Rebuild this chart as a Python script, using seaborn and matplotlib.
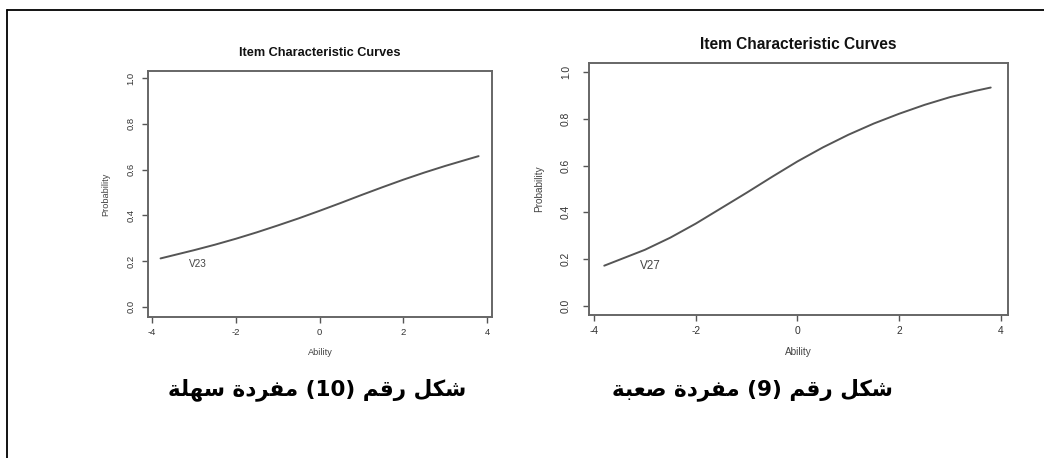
import matplotlib
matplotlib.use("Agg")
import matplotlib.pyplot as plt
import seaborn as sns
import pandas as pd
from matplotlib.lines import Line2D

# ---------------- data ----------------
ability_left = [-3.8, -3.0, -2.5, -2.0, -1.5, -1.0, -0.5, 0.0, 0.5, 1.0, 1.5, 2.0, 2.5, 3.0, 3.5, 3.8]
prob_v23 = [0.212, 0.248, 0.272, 0.298, 0.326, 0.356, 0.387, 0.420, 0.454, 0.489, 0.523, 0.556, 0.587, 0.616, 0.643, 0.659]

ability_right = [-3.8, -3.0, -2.5, -2.0, -1.5, -1.0, -0.5, 0.0, 0.5, 1.0, 1.5, 2.0, 2.5, 3.0, 3.5, 3.8]
prob_v27 = [0.172, 0.240, 0.292, 0.352, 0.418, 0.484, 0.552, 0.618, 0.678, 0.732, 0.780, 0.822, 0.860, 0.893, 0.920, 0.934]

item_labels = ["V23", "V27"]
x_ticks = [-4, -2, 0, 2, 4]
y_ticks = [0.0, 0.2, 0.4, 0.6, 0.8, 1.0]
y_tick_labels = ["0.0", "0.2", "0.4", "0.6", "0.8", "1.0"]
panel_title = "Item Characteristic Curves"
x_label = "Ability"
y_label = "Probability"
caption_left = "شكل رقم (10) مفردة سهلة"
caption_right = "شكل رقم (9) مفردة صعبة"

# ---------------- minimal Arabic shaping for display ----------------
# letter: (isolated, final, initial, medial); None => joins only to the right
FORMS = {
    "ش": ("\uFEB5", "\uFEB6", "\uFEB7", "\uFEB8"),
    "ك": ("\uFED9", "\uFEDA", "\uFEDB", "\uFEDC"),
    "ل": ("\uFEDD", "\uFEDE", "\uFEDF", "\uFEE0"),
    "ر": ("\uFEAD", "\uFEAE", None, None),
    "ق": ("\uFED5", "\uFED6", "\uFED7", "\uFED8"),
    "م": ("\uFEE1", "\uFEE2", "\uFEE3", "\uFEE4"),
    "ف": ("\uFED1", "\uFED2", "\uFED3", "\uFED4"),
    "د": ("\uFEA9", "\uFEAA", None, None),
    "ة": ("\uFE93", "\uFE94", None, None),
    "ص": ("\uFEB9", "\uFEBA", "\uFEBB", "\uFEBC"),
    "ع": ("\uFEC9", "\uFECA", "\uFECB", "\uFECC"),
    "ب": ("\uFE8F", "\uFE90", "\uFE91", "\uFE92"),
    "س": ("\uFEB1", "\uFEB2", "\uFEB3", "\uFEB4"),
    "ه": ("\uFEE9", "\uFEEA", "\uFEEB", "\uFEEC"),
}


def shape_arabic(text):
    out = []
    n = len(text)
    for i, ch in enumerate(text):
        if ch not in FORMS:
            out.append(ch)
            continue
        f = FORMS[ch]
        prev = text[i - 1] if i > 0 else ""
        nxt = text[i + 1] if i < n - 1 else ""
        join_prev = prev in FORMS and FORMS[prev][2] is not None
        join_next = f[2] is not None and nxt in FORMS
        if join_prev and join_next:
            out.append(f[3])
        elif join_prev:
            out.append(f[1])
        elif join_next:
            out.append(f[2])
        else:
            out.append(f[0])
    shaped = "".join(out)
    # visual order: reverse, keep digit runs LTR, mirror brackets
    tokens = []
    for ch in shaped:
        if ch.isdigit() and tokens and tokens[-1].isdigit():
            tokens[-1] += ch
        else:
            tokens.append(ch)
    mirror = {"(": ")", ")": "("}
    return "".join(mirror.get(t, t) for t in reversed(tokens))


# ---------------- figure ----------------
sns.set_theme(style="ticks")
plt.rcParams["font.family"] = ["Liberation Sans", "DejaVu Sans"]

W, H = 1044, 458
fig = plt.figure(figsize=(W / 100, H / 100), dpi=100)
fig.patch.set_facecolor("white")


def frac_box(left, top, right, bottom):
    return [left / W, 1 - bottom / H, (right - left) / W, (bottom - top) / H]


panels = [
    dict(box=frac_box(148, 71, 492, 317), x=ability_left, y=prob_v23, lab=item_labels[0],
         lab_xy=(-2.9, 0.188), xlim=(-4.1, 4.12), ylim=(-0.044, 1.031),
         tfs=9.2, fs=6.8, lfs=6.6, title_pad=11, ylab_pad=12, ypad=5, lab_fs=7.2),
    dict(box=frac_box(589, 63, 1008, 315), x=ability_right, y=prob_v27, lab=item_labels[1],
         lab_xy=(-2.89, 0.172), xlim=(-4.1, 4.14), ylim=(-0.039, 1.039),
         tfs=11.2, fs=7.4, lfs=7.2, title_pad=10, ylab_pad=12, ypad=9, lab_fs=8.4),
]

for p in panels:
    ax = fig.add_axes(p["box"])
    df = pd.DataFrame({"Ability": p["x"], "Probability": p["y"]})
    sns.lineplot(data=df, x="Ability", y="Probability", ax=ax, color="#555555",
                 linewidth=1.4, estimator=None, sort=True)
    ax.set_xlim(*p["xlim"])
    ax.set_ylim(*p["ylim"])
    ax.set_xticks(x_ticks)
    ax.set_xticklabels([str(t) for t in x_ticks])
    ax.set_yticks(y_ticks)
    ax.set_yticklabels(y_tick_labels, rotation=90, va="center")
    ax.tick_params(axis="both", direction="out", length=4, width=1.0, color="#555555",
                   labelsize=p["fs"], labelcolor="#333333", pad=4)
    ax.tick_params(axis="y", pad=p["ypad"])
    for s in ax.spines.values():
        s.set_visible(True)
        s.set_color("#666666")
        s.set_linewidth(1.4)
    ax.set_xlabel(x_label, fontsize=p["lfs"], color="#444444", labelpad=8)
    ax.set_ylabel(y_label, fontsize=p["lfs"], color="#444444", labelpad=p["ylab_pad"])
    ax.set_title(panel_title, fontsize=p["tfs"], fontweight="bold", color="#111111",
                 pad=p["title_pad"])
    ax.text(p["lab_xy"][0], p["lab_xy"][1], p["lab"], fontsize=p["lab_fs"],
            color="#444444", ha="center", va="center")
    ax.set_facecolor("white")

# captions (Arabic)
fig.text(317 / W, 1 - 390 / H, shape_arabic(caption_left), ha="center", va="center",
         fontsize=15.5, fontweight="bold", family=["DejaVu Sans"], color="black")
fig.text(752 / W, 1 - 390 / H, shape_arabic(caption_right), ha="center", va="center",
         fontsize=15.5, fontweight="bold", family=["DejaVu Sans"], color="black")

# outer frame (top and left edges)
fig.add_artist(Line2D([7 / W, 1.0], [1 - 10 / H, 1 - 10 / H], transform=fig.transFigure,
                      color="black", linewidth=1.3))
fig.add_artist(Line2D([7 / W, 7 / W], [1 - 10 / H, 0.0], transform=fig.transFigure,
                      color="black", linewidth=1.3))

fig.savefig("out.png", dpi=100, facecolor="white")
